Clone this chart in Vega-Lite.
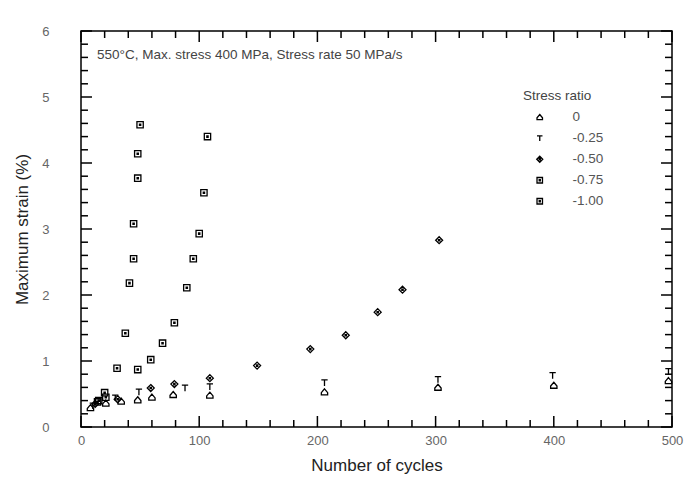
{
  "$schema": "https://vega.github.io/schema/vega-lite/v6.json",
  "width": 591,
  "height": 396,
  "autosize": {"type": "none"},
  "padding": {"left": 81, "top": 31, "right": 12, "bottom": 58},
  "background": "white",
  "config": {
    "font": "Liberation Sans",
    "view": {"stroke": "black", "strokeWidth": 1.5},
    "axis": {"ticks": false, "domain": false, "grid": false}
  },
  "datasets": {
    "ratcheting": [
      {"cycles": 8, "strain": 0.29, "ratio": "0"},
      {"cycles": 21, "strain": 0.36, "ratio": "0"},
      {"cycles": 34, "strain": 0.39, "ratio": "0"},
      {"cycles": 48, "strain": 0.41, "ratio": "0"},
      {"cycles": 60, "strain": 0.45, "ratio": "0"},
      {"cycles": 78, "strain": 0.49, "ratio": "0"},
      {"cycles": 109, "strain": 0.48, "ratio": "0"},
      {"cycles": 206, "strain": 0.53, "ratio": "0"},
      {"cycles": 302, "strain": 0.60, "ratio": "0"},
      {"cycles": 400, "strain": 0.63, "ratio": "0"},
      {"cycles": 497, "strain": 0.70, "ratio": "0"},

      {"cycles": 10, "strain": 0.32, "ratio": "-0.25"},
      {"cycles": 29, "strain": 0.44, "ratio": "-0.25"},
      {"cycles": 49, "strain": 0.53, "ratio": "-0.25"},
      {"cycles": 88, "strain": 0.59, "ratio": "-0.25"},
      {"cycles": 109, "strain": 0.61, "ratio": "-0.25"},
      {"cycles": 206, "strain": 0.67, "ratio": "-0.25"},
      {"cycles": 302, "strain": 0.72, "ratio": "-0.25"},
      {"cycles": 399, "strain": 0.78, "ratio": "-0.25"},
      {"cycles": 497, "strain": 0.84, "ratio": "-0.25"},

      {"cycles": 12, "strain": 0.35, "ratio": "-0.50"},
      {"cycles": 31, "strain": 0.42, "ratio": "-0.50"},
      {"cycles": 59, "strain": 0.59, "ratio": "-0.50"},
      {"cycles": 79, "strain": 0.65, "ratio": "-0.50"},
      {"cycles": 109, "strain": 0.74, "ratio": "-0.50"},
      {"cycles": 149, "strain": 0.93, "ratio": "-0.50"},
      {"cycles": 194, "strain": 1.18, "ratio": "-0.50"},
      {"cycles": 224, "strain": 1.39, "ratio": "-0.50"},
      {"cycles": 251, "strain": 1.74, "ratio": "-0.50"},
      {"cycles": 272, "strain": 2.08, "ratio": "-0.50"},
      {"cycles": 303, "strain": 2.83, "ratio": "-0.50"},

      {"cycles": 14, "strain": 0.38, "ratio": "-0.75"},
      {"cycles": 21, "strain": 0.45, "ratio": "-0.75"},
      {"cycles": 48, "strain": 0.87, "ratio": "-0.75"},
      {"cycles": 59, "strain": 1.02, "ratio": "-0.75"},
      {"cycles": 69, "strain": 1.27, "ratio": "-0.75"},
      {"cycles": 79, "strain": 1.58, "ratio": "-0.75"},
      {"cycles": 89.5, "strain": 2.11, "ratio": "-0.75"},
      {"cycles": 95, "strain": 2.55, "ratio": "-0.75"},
      {"cycles": 100, "strain": 2.93, "ratio": "-0.75"},
      {"cycles": 104, "strain": 3.55, "ratio": "-0.75"},
      {"cycles": 107, "strain": 4.40, "ratio": "-0.75"},

      {"cycles": 15, "strain": 0.40, "ratio": "-1.00"},
      {"cycles": 20, "strain": 0.52, "ratio": "-1.00"},
      {"cycles": 30.5, "strain": 0.89, "ratio": "-1.00"},
      {"cycles": 37.5, "strain": 1.42, "ratio": "-1.00"},
      {"cycles": 41, "strain": 2.18, "ratio": "-1.00"},
      {"cycles": 44.5, "strain": 2.55, "ratio": "-1.00"},
      {"cycles": 44.5, "strain": 3.08, "ratio": "-1.00"},
      {"cycles": 48, "strain": 3.77, "ratio": "-1.00"},
      {"cycles": 48, "strain": 4.14, "ratio": "-1.00"},
      {"cycles": 50, "strain": 4.58, "ratio": "-1.00"}
    ],
    "xticks": [
      {"cycles": 0, "kind": "major"}, {"cycles": 20, "kind": "minor"}, {"cycles": 40, "kind": "minor"},
      {"cycles": 60, "kind": "minor"}, {"cycles": 80, "kind": "minor"}, {"cycles": 100, "kind": "major"},
      {"cycles": 120, "kind": "minor"}, {"cycles": 140, "kind": "minor"}, {"cycles": 160, "kind": "minor"},
      {"cycles": 180, "kind": "minor"}, {"cycles": 200, "kind": "major"}, {"cycles": 220, "kind": "minor"},
      {"cycles": 240, "kind": "minor"}, {"cycles": 260, "kind": "minor"}, {"cycles": 280, "kind": "minor"},
      {"cycles": 300, "kind": "major"}, {"cycles": 320, "kind": "minor"}, {"cycles": 340, "kind": "minor"},
      {"cycles": 360, "kind": "minor"}, {"cycles": 380, "kind": "minor"}, {"cycles": 400, "kind": "major"},
      {"cycles": 420, "kind": "minor"}, {"cycles": 440, "kind": "minor"}, {"cycles": 460, "kind": "minor"},
      {"cycles": 480, "kind": "minor"}, {"cycles": 500, "kind": "major"}
    ],
    "yticks": [
      {"strain": 0, "kind": "major"}, {"strain": 0.2, "kind": "minor"}, {"strain": 0.4, "kind": "minor"},
      {"strain": 0.6, "kind": "minor"}, {"strain": 0.8, "kind": "minor"}, {"strain": 1, "kind": "major"},
      {"strain": 1.2, "kind": "minor"}, {"strain": 1.4, "kind": "minor"}, {"strain": 1.6, "kind": "minor"},
      {"strain": 1.8, "kind": "minor"}, {"strain": 2, "kind": "major"}, {"strain": 2.2, "kind": "minor"},
      {"strain": 2.4, "kind": "minor"}, {"strain": 2.6, "kind": "minor"}, {"strain": 2.8, "kind": "minor"},
      {"strain": 3, "kind": "major"}, {"strain": 3.2, "kind": "minor"}, {"strain": 3.4, "kind": "minor"},
      {"strain": 3.6, "kind": "minor"}, {"strain": 3.8, "kind": "minor"}, {"strain": 4, "kind": "major"},
      {"strain": 4.2, "kind": "minor"}, {"strain": 4.4, "kind": "minor"}, {"strain": 4.6, "kind": "minor"},
      {"strain": 4.8, "kind": "minor"}, {"strain": 5, "kind": "major"}, {"strain": 5.2, "kind": "minor"},
      {"strain": 5.4, "kind": "minor"}, {"strain": 5.6, "kind": "minor"}, {"strain": 5.8, "kind": "minor"},
      {"strain": 6, "kind": "major"}
    ]
  },
  "layer": [
    {
      "data": {"name": "ratcheting"},
      "mark": {"type": "point", "filled": false, "color": "black", "strokeWidth": 1.3, "size": 40, "opacity": 1},
      "encoding": {
        "x": {
          "field": "cycles",
          "type": "quantitative",
          "scale": {"domain": [0, 500], "nice": false, "zero": true},
          "axis": {
            "orient": "bottom",
            "title": "Number of cycles",
            "values": [0, 100, 200, 300, 400, 500],
            "labelOverlap": false,
            "labelFlush": false,
            "labelFontSize": 13,
            "labelColor": "#666666",
            "labelPadding": 7,
            "titleFontSize": 17,
            "titleFontWeight": "normal",
            "titleColor": "#222222",
            "titlePadding": 10
          }
        },
        "y": {
          "field": "strain",
          "type": "quantitative",
          "scale": {"domain": [0, 6], "nice": false},
          "axis": {
            "orient": "left",
            "title": "Maximum strain (%)",
            "values": [0, 1, 2, 3, 4, 5, 6],
            "format": "d",
            "labelOverlap": false,
            "labelFlush": false,
            "labelFontSize": 13,
            "labelColor": "#666666",
            "labelPadding": 32,
            "titleFontSize": 17,
            "titleFontWeight": "normal",
            "titleColor": "#222222",
            "titlePadding": 10
          }
        },
        "shape": {
          "field": "ratio",
          "type": "nominal",
          "scale": {
            "domain": ["0", "-0.25", "-0.50", "-0.75", "-1.00"],
            "range": [
              "M0,-1L1,0.2V0.9H-1V0.2Z",
              "M-1,-0.9H1M0,-0.9V1",
              "M0,-1.1L1.1,0L0,1.1L-1.1,0Z M-0.2,-0.2H0.2V0.2H-0.2Z",
              "M-1,-1H1V1H-1Z M-0.2,-0.2H0.2V0.2H-0.2Z",
              "M-1,-1H1V1H-1Z M-0.2,-0.2H0.2V0.2H-0.2Z"
            ]
          },
          "legend": {
            "orient": "none",
            "legendX": 442,
            "legendY": 58,
            "title": "Stress ratio",
            "titleFontSize": 13.5,
            "titleFontWeight": "normal",
            "titleColor": "#444444",
            "titlePadding": 8,
            "labelFontSize": 13.5,
            "labelColor": "#555555",
            "symbolOffset": 10,
            "labelOffset": 26,
            "rowPadding": 6,
            "symbolSize": 30,
            "symbolStrokeWidth": 1.3,
            "symbolStrokeColor": "black",
            "symbolFillColor": "transparent"
          }
        }
      }
    },
    {
      "data": {"name": "xticks"},
      "transform": [{"filter": "datum.kind === 'major'"}],
      "mark": {"type": "rule", "color": "black", "strokeWidth": 1.5},
      "encoding": {
        "x": {"field": "cycles", "type": "quantitative", "axis": null},
        "y": {"datum": 0, "type": "quantitative", "axis": null},
        "y2": {"datum": 0.167}
      }
    },
    {
      "data": {"name": "xticks"},
      "transform": [{"filter": "datum.kind === 'minor'"}],
      "mark": {"type": "rule", "color": "black", "strokeWidth": 1.5},
      "encoding": {
        "x": {"field": "cycles", "type": "quantitative", "axis": null},
        "y": {"datum": 0, "type": "quantitative", "axis": null},
        "y2": {"datum": 0.106}
      }
    },
    {
      "data": {"name": "xticks"},
      "transform": [{"filter": "datum.kind === 'major'"}],
      "mark": {"type": "rule", "color": "black", "strokeWidth": 1.5},
      "encoding": {
        "x": {"field": "cycles", "type": "quantitative", "axis": null},
        "y": {"datum": 6, "type": "quantitative", "axis": null},
        "y2": {"datum": 5.833}
      }
    },
    {
      "data": {"name": "xticks"},
      "transform": [{"filter": "datum.kind === 'minor'"}],
      "mark": {"type": "rule", "color": "black", "strokeWidth": 1.5},
      "encoding": {
        "x": {"field": "cycles", "type": "quantitative", "axis": null},
        "y": {"datum": 6, "type": "quantitative", "axis": null},
        "y2": {"datum": 5.894}
      }
    },
    {
      "data": {"name": "yticks"},
      "transform": [{"filter": "datum.kind === 'major'"}],
      "mark": {"type": "rule", "color": "black", "strokeWidth": 1.5},
      "encoding": {
        "y": {"field": "strain", "type": "quantitative", "axis": null},
        "x": {"datum": 0, "type": "quantitative", "axis": null},
        "x2": {"datum": 9.3}
      }
    },
    {
      "data": {"name": "yticks"},
      "transform": [{"filter": "datum.kind === 'minor'"}],
      "mark": {"type": "rule", "color": "black", "strokeWidth": 1.5},
      "encoding": {
        "y": {"field": "strain", "type": "quantitative", "axis": null},
        "x": {"datum": 0, "type": "quantitative", "axis": null},
        "x2": {"datum": 5.9}
      }
    },
    {
      "data": {"name": "yticks"},
      "transform": [{"filter": "datum.kind === 'major'"}],
      "mark": {"type": "rule", "color": "black", "strokeWidth": 1.5},
      "encoding": {
        "y": {"field": "strain", "type": "quantitative", "axis": null},
        "x": {"datum": 500, "type": "quantitative", "axis": null},
        "x2": {"datum": 490.7}
      }
    },
    {
      "data": {"name": "yticks"},
      "transform": [{"filter": "datum.kind === 'minor'"}],
      "mark": {"type": "rule", "color": "black", "strokeWidth": 1.5},
      "encoding": {
        "y": {"field": "strain", "type": "quantitative", "axis": null},
        "x": {"datum": 500, "type": "quantitative", "axis": null},
        "x2": {"datum": 494.1}
      }
    },
    {
      "data": {"values": [{}]},
      "mark": {"type": "text", "align": "left", "baseline": "middle", "fontSize": 13.5, "color": "#444444", "font": "Liberation Sans"},
      "encoding": {
        "x": {"datum": 13.5, "type": "quantitative", "axis": null},
        "y": {"datum": 5.64, "type": "quantitative", "axis": null},
        "text": {"value": "550°C, Max. stress 400 MPa, Stress rate 50 MPa/s"}
      }
    }
  ],
  "resolve": {"axis": {"x": "independent", "y": "independent"}}
}
